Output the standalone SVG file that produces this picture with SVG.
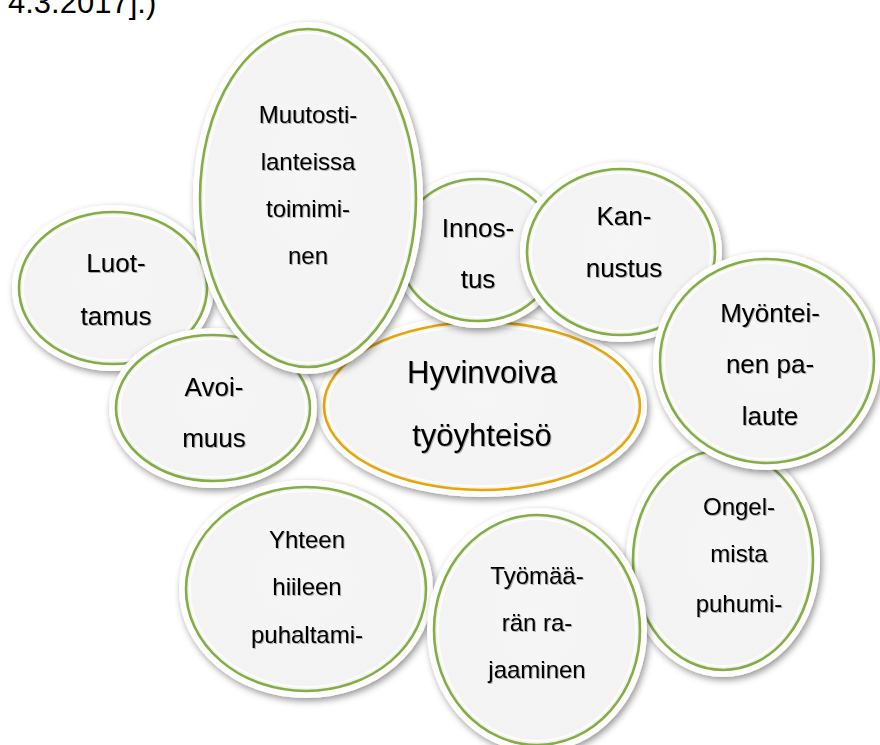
<svg xmlns="http://www.w3.org/2000/svg" width="880" height="745" viewBox="0 0 880 745">
<defs>
  <filter id="sh" x="-20%" y="-20%" width="140%" height="140%">
    <feDropShadow dx="2" dy="3" stdDeviation="3.5" flood-color="#000" flood-opacity="0.42"/>
  </filter>
  <filter id="tsh" x="-10%" y="-20%" width="120%" height="140%">
    <feDropShadow dx="1" dy="1" stdDeviation="0.7" flood-color="#000" flood-opacity="0.3"/>
  </filter>
  <radialGradient id="fillg" cx="50%" cy="45%" r="60%">
    <stop offset="0" stop-color="#f6f6f6"/>
    <stop offset="0.88" stop-color="#f3f3f3"/>
    <stop offset="1" stop-color="#e9e9e9"/>
  </radialGradient>
</defs>
<style>
  .rim { fill: #ffffff; filter: url(#sh); }
  .ring { fill: url(#fillg); stroke: #84ad45; stroke-width: 2.6; }
  .ringc { fill: url(#fillg); stroke: #e6a60a; stroke-width: 2.6; }
  .hl { fill: none; stroke: #ffffff; stroke-width: 2; opacity: 0.8; }
  text { font-family: "Liberation Sans", Arial, sans-serif; fill: #000; text-anchor: middle; filter: url(#tsh); }
  .t24 { font-size: 24px; }
  .t26 { font-size: 26px; }
  .t31 { font-size: 31px; }
  .top { font-size: 31px; text-anchor: start; filter: none; }
</style>
<rect width="880" height="745" fill="#ffffff"/>
<text class="top" x="8" y="13">4.3.2017].)</text>
<g id="connectors"></g>

<g id="luottamus">
  <ellipse class="rim" cx="113" cy="288" rx="101" ry="83"/>
  <ellipse class="ring" cx="113" cy="288" rx="94" ry="76"/>
  <ellipse class="hl" cx="113" cy="288" rx="90" ry="72"/>
  <text class="t26" x="116" y="272">Luot-</text>
  <text class="t26" x="116" y="325">tamus</text>
</g>

<g id="hyvinvoiva">
  <ellipse class="rim" cx="482" cy="406" rx="165" ry="91"/>
  <ellipse class="ringc" cx="482" cy="406" rx="158" ry="84"/>
  <ellipse class="hl" cx="482" cy="406" rx="154" ry="80"/>
  <text class="t31" x="482" y="383">Hyvinvoiva</text>
  <text class="t31" x="482" y="446">työyhteisö</text>
</g>

<g id="innostus">
  <ellipse class="rim" cx="478" cy="250" rx="86" ry="78"/>
  <ellipse class="ring" cx="478" cy="250" rx="79" ry="71"/>
  <ellipse class="hl" cx="478" cy="250" rx="75" ry="67"/>
  <text class="t26" x="478" y="237">Innos-</text>
  <text class="t26" x="478" y="288">tus</text>
</g>

<g id="avoimuus">
  <ellipse class="rim" cx="213" cy="408" rx="104" ry="80"/>
  <ellipse class="ring" cx="213" cy="408" rx="97" ry="73"/>
  <ellipse class="hl" cx="213" cy="408" rx="93" ry="69"/>
  <text class="t26" x="214" y="396">Avoi-</text>
  <text class="t26" x="214" y="447">muus</text>
</g>

<g id="muutostilanteissa">
  <ellipse class="rim" cx="308" cy="198" rx="115" ry="176"/>
  <ellipse class="ring" cx="308" cy="198" rx="108" ry="169"/>
  <ellipse class="hl" cx="308" cy="198" rx="104" ry="165"/>
  <text class="t24" x="308" y="123">Muutosti-</text>
  <text class="t24" x="308" y="170">lanteissa</text>
  <text class="t24" x="308" y="217">toimimi-</text>
  <text class="t24" x="308" y="264">nen</text>
</g>

<g id="kannustus">
  <ellipse class="rim" cx="621" cy="252" rx="101" ry="90"/>
  <ellipse class="ring" cx="621" cy="252" rx="94" ry="83"/>
  <ellipse class="hl" cx="621" cy="252" rx="90" ry="79"/>
  <text class="t26" x="624" y="225">Kan-</text>
  <text class="t26" x="624" y="277">nustus</text>
</g>

<g id="ongelmista">
  <ellipse class="rim" cx="723" cy="560" rx="97" ry="117"/>
  <ellipse class="ring" cx="723" cy="560" rx="90" ry="110"/>
  <ellipse class="hl" cx="723" cy="560" rx="86" ry="106"/>
  <text class="t24" x="739" y="515">Ongel-</text>
  <text class="t24" x="739" y="562">mista</text>
  <text class="t24" x="739" y="612">puhumi-</text>
</g>

<g id="myonteinen">
  <ellipse class="rim" cx="767" cy="361" rx="114" ry="109"/>
  <ellipse class="ring" cx="767" cy="361" rx="107" ry="102"/>
  <ellipse class="hl" cx="767" cy="361" rx="103" ry="98"/>
  <text class="t26" x="770" y="322">Myöntei-</text>
  <text class="t26" x="770" y="373">nen pa-</text>
  <text class="t26" x="770" y="425">laute</text>
</g>

<g id="yhteen">
  <ellipse class="rim" cx="306" cy="589" rx="127" ry="109"/>
  <ellipse class="ring" cx="306" cy="589" rx="120" ry="102"/>
  <ellipse class="hl" cx="306" cy="589" rx="116" ry="98"/>
  <text class="t24" x="307" y="548">Yhteen</text>
  <text class="t24" x="307" y="595">hiileen</text>
  <text class="t24" x="307" y="643">puhaltami-</text>
</g>

<g id="tyomaaran">
  <ellipse class="rim" cx="537" cy="630" rx="110" ry="122"/>
  <ellipse class="ring" cx="537" cy="630" rx="103" ry="115"/>
  <ellipse class="hl" cx="537" cy="630" rx="99" ry="111"/>
  <text class="t24" x="537" y="584">Työmää-</text>
  <text class="t24" x="537" y="631">rän ra-</text>
  <text class="t24" x="537" y="678">jaaminen</text>
</g>
</svg>
